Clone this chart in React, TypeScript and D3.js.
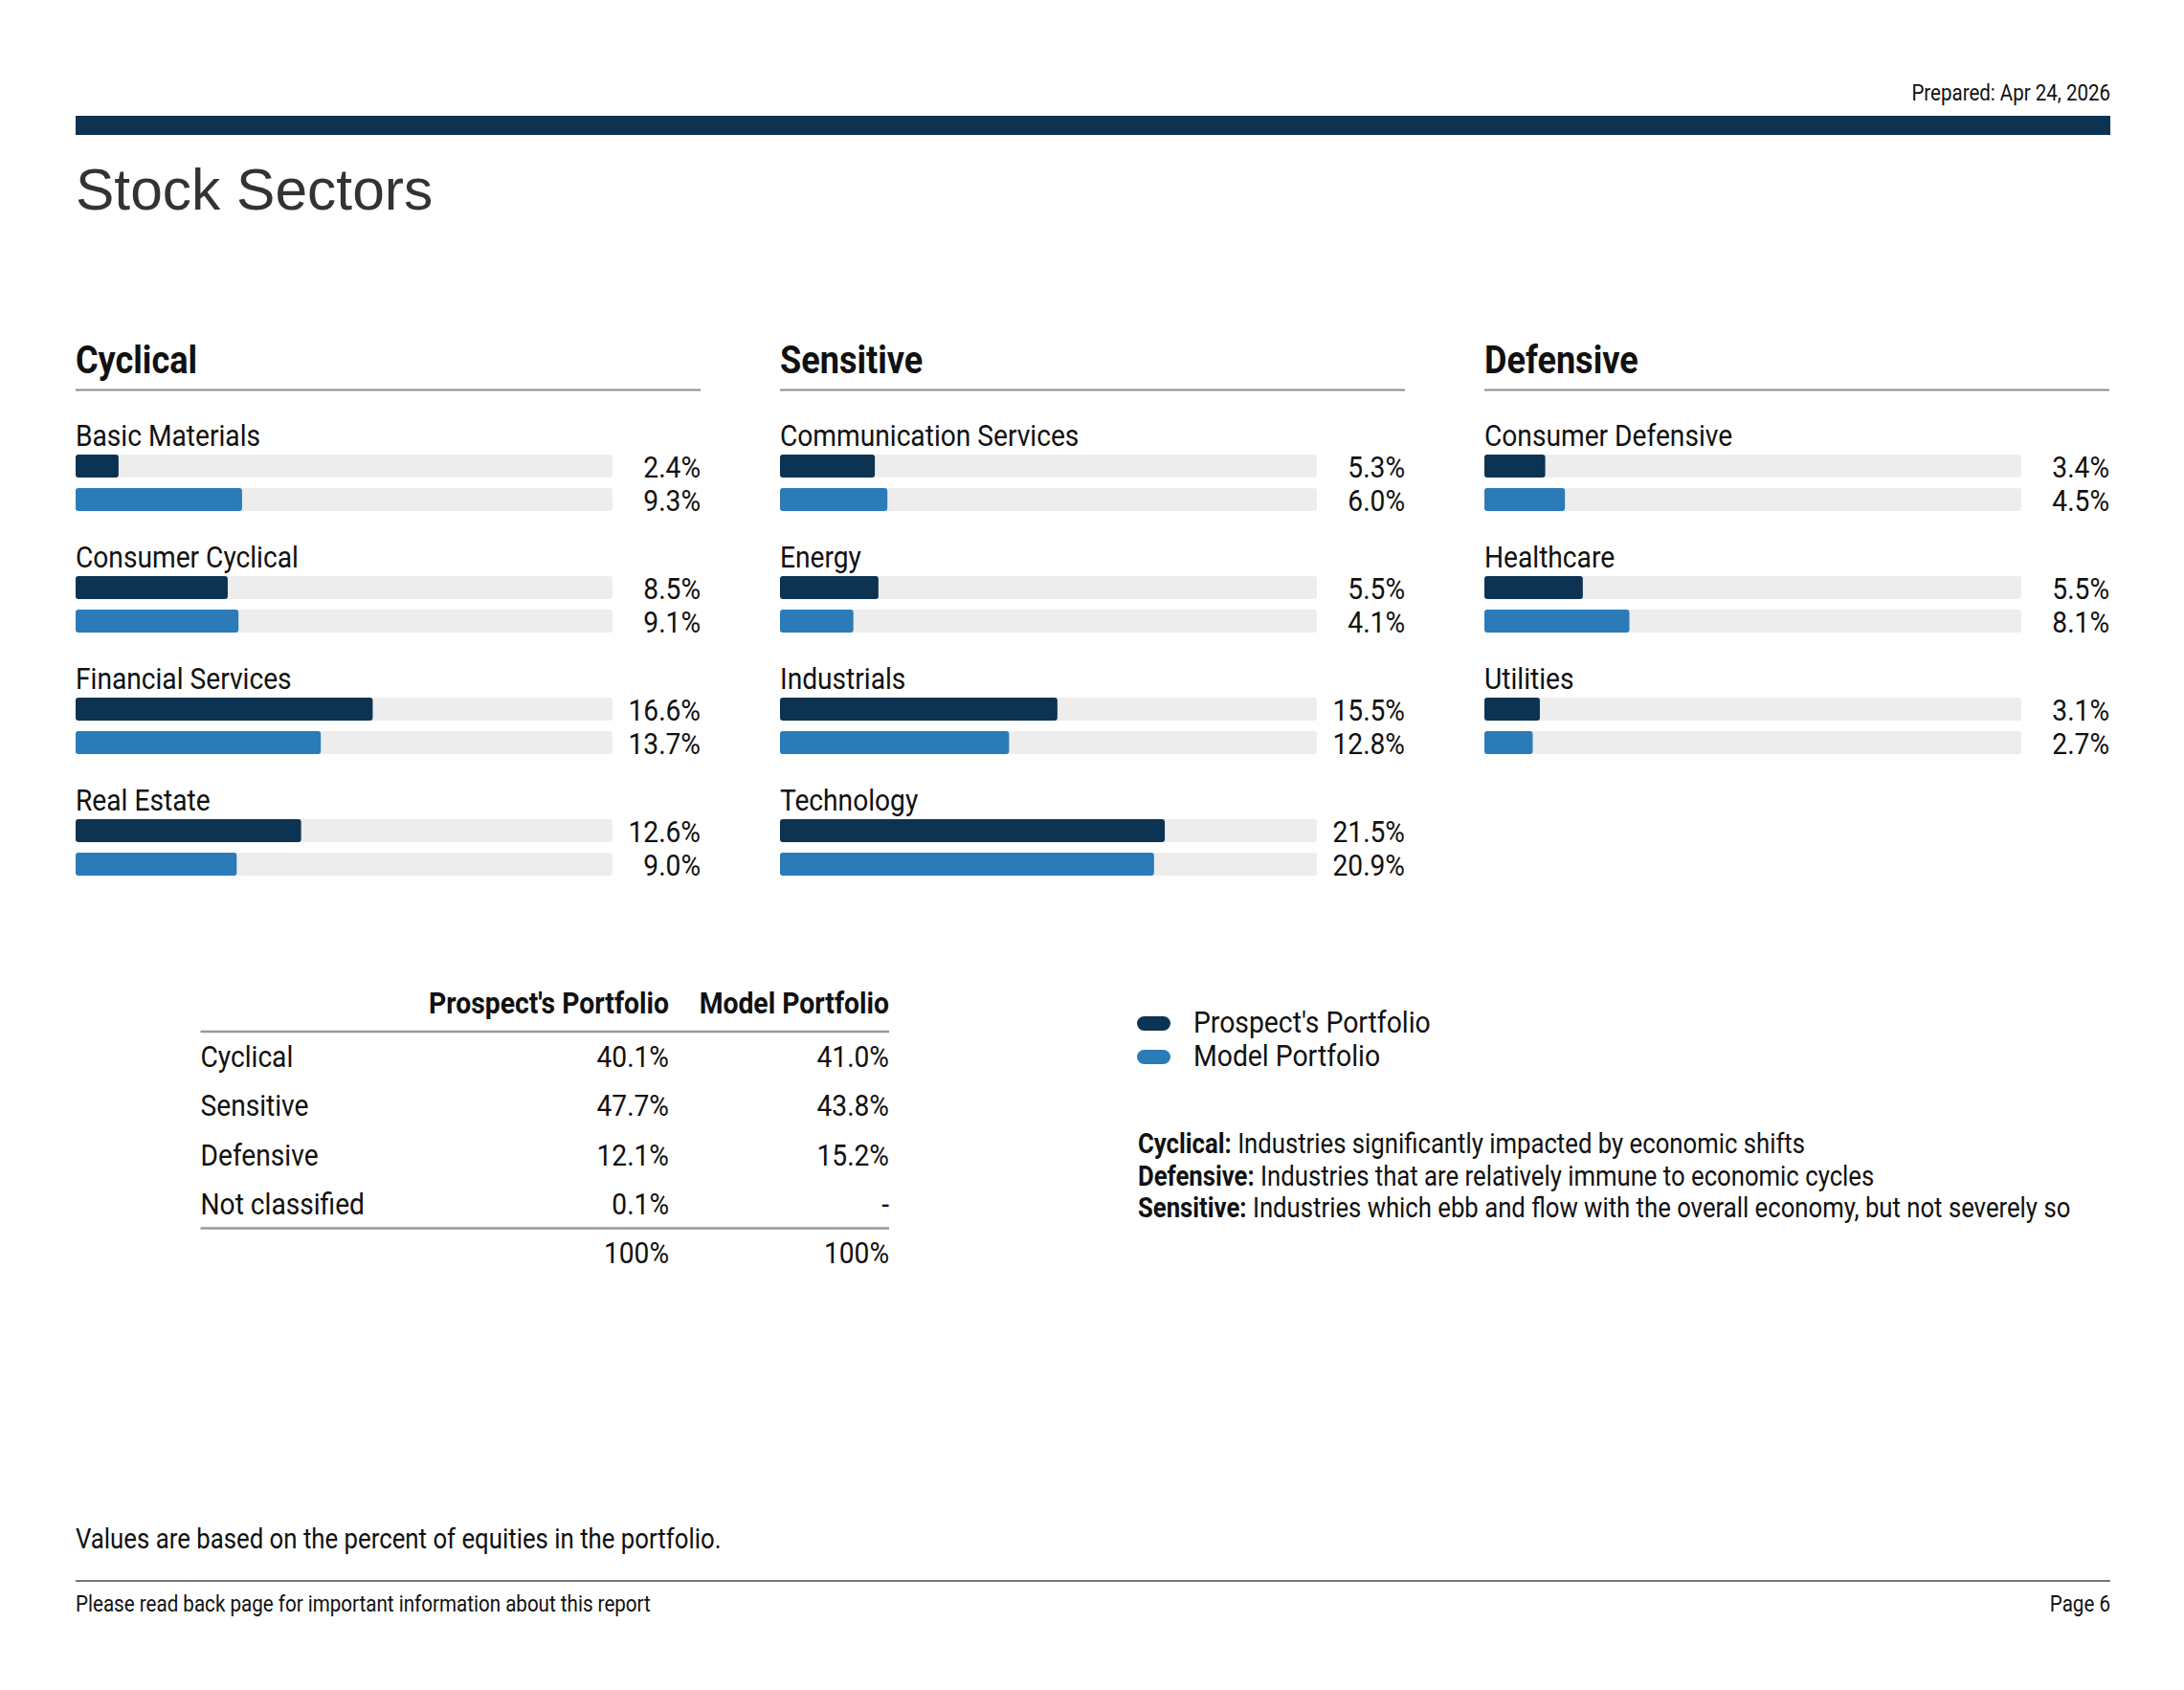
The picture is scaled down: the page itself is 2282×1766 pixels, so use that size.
import React from "react";
import * as d3 from "d3";

const groups = ["Cyclical", "Sensitive", "Defensive"];
const sectorNames = [
  ["Basic Materials", "Consumer Cyclical", "Financial Services", "Real Estate"],
  ["Communication Services", "Energy", "Industrials", "Technology"],
  ["Consumer Defensive", "Healthcare", "Utilities"],
];
const prospectValues = [
  [2.4, 8.5, 16.6, 12.6],
  [5.3, 5.5, 15.5, 21.5],
  [3.4, 5.5, 3.1],
];
const modelValues = [
  [9.3, 9.1, 13.7, 9.0],
  [6.0, 4.1, 12.8, 20.9],
  [4.5, 8.1, 2.7],
];
const seriesNames = ["Prospect's Portfolio", "Model Portfolio"];

const tableRows = ["Cyclical", "Sensitive", "Defensive", "Not classified"];
const tableProspect = ["40.1%", "47.7%", "12.1%", "0.1%"];
const tableModel = ["41.0%", "43.8%", "15.2%", "-"];
const tableTotals = ["100%", "100%"];

const definitions = [
  ["Cyclical:", "Industries significantly impacted by economic shifts"],
  ["Defensive:", "Industries that are relatively immune to economic cycles"],
  ["Sensitive:", "Industries which ebb and flow with the overall economy, but not severely so"],
];

const DARK = "#0d3352";
const BLUE = "#2b7bb9";
const TRACK = "#ededed";
const SX = 0.88;
const FONT = "Roboto, 'Noto Sans', sans-serif";

function T(props: {
  x: number; y: number; size: number; weight?: number | string; anchor?: string; fill?: string; children: React.ReactNode;
}) {
  const { x, y, size, weight = 400, anchor = "start", fill = "#111", children } = props;
  return (
    <text
      transform={`translate(${x},${y}) scale(${SX},1)`}
      fontFamily={FONT}
      fontSize={size}
      fontWeight={weight}
      textAnchor={anchor as any}
      fill={fill}
    >
      {children}
    </text>
  );
}

export default function App() {
  const W = 2282, H = 1766;
  const left = 79, right = 2205;
  const colX = [79, 815, 1551];
  const colW = 653;
  const trackW = 561;
  const x = d3.scaleLinear().domain([0, 30]).range([0, trackW]);
  const fmt = d3.format(".1f");
  const rowStep = 127;
  const firstLabelY = 466;
  const barH = 24;

  return (
    <svg width={W} height={H} style={{ position: "absolute", left: 0, top: 0, background: "#fff" }}>
      <rect x={0} y={0} width={W} height={H} fill="#fff" />
      <T x={right} y={105} size={23.3} anchor="end">Prepared: Apr 24, 2026</T>
      <rect x={left} y={121} width={right - left} height={20} fill={DARK} />
      <text x={left} y={219} fontFamily="'Liberation Sans', Arial, sans-serif" fontSize={60.5} fill="#333">
        Stock Sectors
      </text>

      {groups.map((g, gi) => {
        const cx = colX[gi];
        return (
          <g key={g}>
            <T x={cx} y={390} size={41} weight={700}>{g}</T>
            <line x1={cx} x2={cx + colW} y1={407.5} y2={407.5} stroke="#8c8c8c" strokeWidth={2} />
            {sectorNames[gi].map((s, si) => {
              const ly = firstLabelY + si * rowStep;
              const vals = [prospectValues[gi][si], modelValues[gi][si]];
              return (
                <g key={s}>
                  <T x={cx} y={ly} size={32}>{s}</T>
                  {vals.map((v, vi) => {
                    const by = ly + 9 + vi * 35;
                    return (
                      <g key={vi}>
                        <rect x={cx} y={by} width={trackW} height={barH} rx={3} fill={TRACK} />
                        <rect x={cx} y={by} width={x(v)} height={barH} rx={3} fill={vi === 0 ? DARK : BLUE} />
                        <T x={cx + colW} y={by + barH / 2 + 11.5} size={32} anchor="end">{fmt(v) + "%"}</T>
                      </g>
                    );
                  })}
                </g>
              );
            })}
          </g>
        );
      })}

      {/* Summary table */}
      <T x={699} y={1059} size={32.2} weight={700} anchor="end">{seriesNames[0]}</T>
      <T x={929} y={1059} size={32.2} weight={700} anchor="end">{seriesNames[1]}</T>
      <line x1={209.5} x2={929} y1={1078} y2={1078} stroke="#999" strokeWidth={2.5} />
      {tableRows.map((r, i) => {
        const y = 1115 + i * 51.3;
        return (
          <g key={r}>
            <T x={209.5} y={y} size={32}>{r}</T>
            <T x={699} y={y} size={32} anchor="end">{tableProspect[i]}</T>
            <T x={929} y={y} size={32} anchor="end">{tableModel[i]}</T>
          </g>
        );
      })}
      <line x1={209.5} x2={929} y1={1283.5} y2={1283.5} stroke="#999" strokeWidth={2.5} />
      <T x={699} y={1320} size={32} anchor="end">{tableTotals[0]}</T>
      <T x={929} y={1320} size={32} anchor="end">{tableTotals[1]}</T>

      {/* Legend */}
      {seriesNames.map((n, i) => {
        const cy = 1069.5 + i * 35;
        return (
          <g key={n}>
            <rect x={1188} y={cy - 7.5} width={35} height={15} rx={7.5} fill={i === 0 ? DARK : BLUE} />
            <T x={1247} y={cy + 9.5} size={32.2}>{n}</T>
          </g>
        );
      })}

      {/* Definitions */}
      {definitions.map((d, i) => {
        const y = 1205 + i * 33.5;
        return (
          <text key={i} transform={`translate(1189,${y}) scale(${SX},1)`} fontFamily={FONT} fontSize={29.2} fill="#111">
            <tspan fontWeight={700}>{d[0]}</tspan>
            <tspan> {d[1]}</tspan>
          </text>
        );
      })}

      <T x={left} y={1618} size={29.3}>Values are based on the percent of equities in the portfolio.</T>
      <line x1={left} x2={right} y1={1652} y2={1652} stroke="#777" strokeWidth={2} />
      <T x={left} y={1684} size={23.4}>Please read back page for important information about this report</T>
      <T x={right} y={1684} size={23.4} anchor="end">Page 6</T>
    </svg>
  );
}
